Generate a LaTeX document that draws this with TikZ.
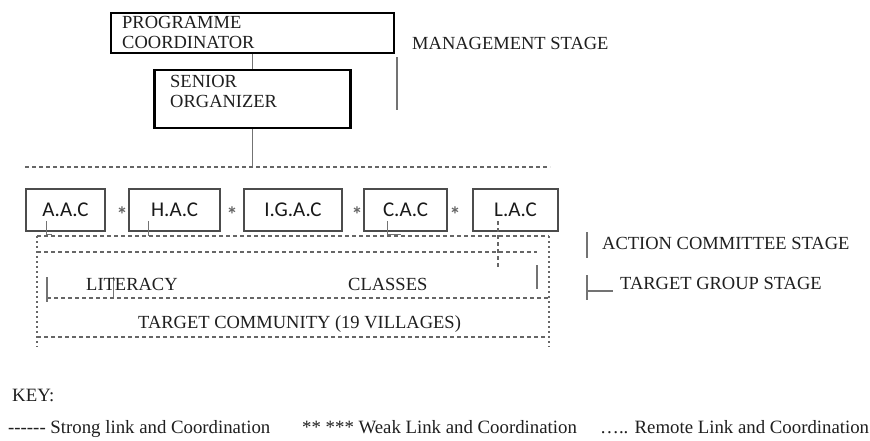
\documentclass[tikz,border=0pt]{standalone}
\usepackage{fontspec}
\setmainfont{Liberation Serif}
\newfontfamily\sanslab{Carlito}
\usetikzlibrary{calc}
\begin{document}
\begin{tikzpicture}[x=1pt,y=-1pt,
  txt/.style={inner sep=0pt, anchor=base west, text=black!88, font=\fontsize{18.5}{22}\selectfont},
  keytxt/.style={inner sep=0pt, anchor=base west, text=black!88, font=\fontsize{18.8}{22}\selectfont},
  lab/.style={inner sep=0pt, text=black!90, font=\sanslab\fontsize{21}{24}\selectfont},
  star/.style={inner sep=0pt, anchor=base, text=black!60, font=\sanslab\bfseries\fontsize{22}{24}\selectfont},
  topbox/.style={draw=black, line width=2.2pt, inner sep=0pt},
  acbox/.style={draw=black!70, line width=1.3pt, inner sep=0pt, minimum height=42pt},
  link/.style={draw=black!55, line width=1.3pt},
  dsh/.style={draw=black!60, line width=1.1pt, dash pattern=on 4pt off 3pt},
  dtt/.style={draw=black!60, line width=1.3pt, dash pattern=on 2pt off 3pt},
]
\useasboundingbox[fill=white] (0,0) rectangle (870,440);

% management stage
\node[topbox, minimum width=283pt, minimum height=40pt] (pc) at (252.5,33) {};
\node[txt] (pct1) at (122,28) {PROGRAMME};
\node[txt] (pct2) at (122,48) {COORDINATOR};
\node[topbox, minimum width=196pt, minimum height=58pt] (so) at (252.5,99) {};
\node[txt] (sot1) at (170,87) {SENIOR};
\node[txt] (sot2) at (170,107) {ORGANIZER};
\draw[link] (pc.south) -- (so.north);

\node[txt] (mgt) at (412,49) {MANAGEMENT STAGE};
\coordinate (mA) at (397,57);
\coordinate (mB) at (397,110);
\draw[link] (mA) -- (mB);

% bus
\coordinate (busL) at (25,167);
\coordinate (busR) at (550,167);
\draw[link] (so.south) -- (so.south |- busL);
\draw[dsh] (busL) -- (busR);

% action committees
\node[acbox, lab, minimum width=79pt] (aac) at (65.5,210) {A.A.C};
\node[acbox, lab, minimum width=91pt] (hac) at (174.5,210) {H.A.C};
\node[acbox, lab, minimum width=98pt] (igac) at (293,210) {I.G.A.C};
\node[acbox, lab, minimum width=83pt] (cac) at (405.5,210) {C.A.C};
\node[acbox, lab, minimum width=85pt] (lac) at (515.5,210) {L.A.C};
\node[star] (s1) at (122,222) {*};
\node[star] (s2) at (232,222) {*};
\node[star] (s3) at (357,222) {*};
\node[star] (s4) at (455,222) {*};

% ticks from committees
\draw[link, line width=1pt] (46,221) -- (46,234) -- (52,234);
\draw[link, line width=1pt] (148,221) -- (148,236);
\draw[link, line width=1pt] (387,221) -- (387,234) -- (401,234);
\draw[dsh] (498,221) -- (498,267);

% target frame
\coordinate (fTL) at (37,236);
\coordinate (fTR) at (549,236);
\coordinate (fBL) at (37,347);
\coordinate (fBR) at (549,347);
\draw[dsh] (fTL) -- (fTR);
\draw[dtt] (fTL) -- (fBL);
\draw[dtt] (fTR) -- (fBR);
\draw[dsh] (37,252) -- (537,252);
\draw[dsh] (47,298) -- (549,298);
\draw[dsh] (37,337) -- (549,337);
\draw[link] (47,277) -- (47,302);
\draw[link, line width=1pt] (113,277) -- (113,297);
\draw[link] (537,265) -- (537,289);

\node[txt] (lit) at (86,290) {LITERACY};
\node[txt] (cls) at (348,290) {CLASSES};
\node[txt] (tc) at (138,328) {TARGET COMMUNITY (19 VILLAGES)};

% right labels
\draw[link] (587,232) -- (587,258);
\node[txt] (acs) at (602,249) {ACTION COMMITTEE STAGE};
\draw[link] (587,275) -- (587,300);
\draw[link] (587,291) -- (613,291);
\node[txt] (tgs) at (620,289) {TARGET GROUP STAGE};

% key
\node[keytxt] (key) at (12,401) {KEY:};
\node[keytxt] (k1) at (8,433) {-{}-{}-{}-{}-{}- Strong link and Coordination};
\node[keytxt] (k2) at (302,433) {** *** Weak Link and Coordination};
\node[keytxt] (k3) at (600,433) {….. Remote Link and Coordination};
\end{tikzpicture}
\end{document}
